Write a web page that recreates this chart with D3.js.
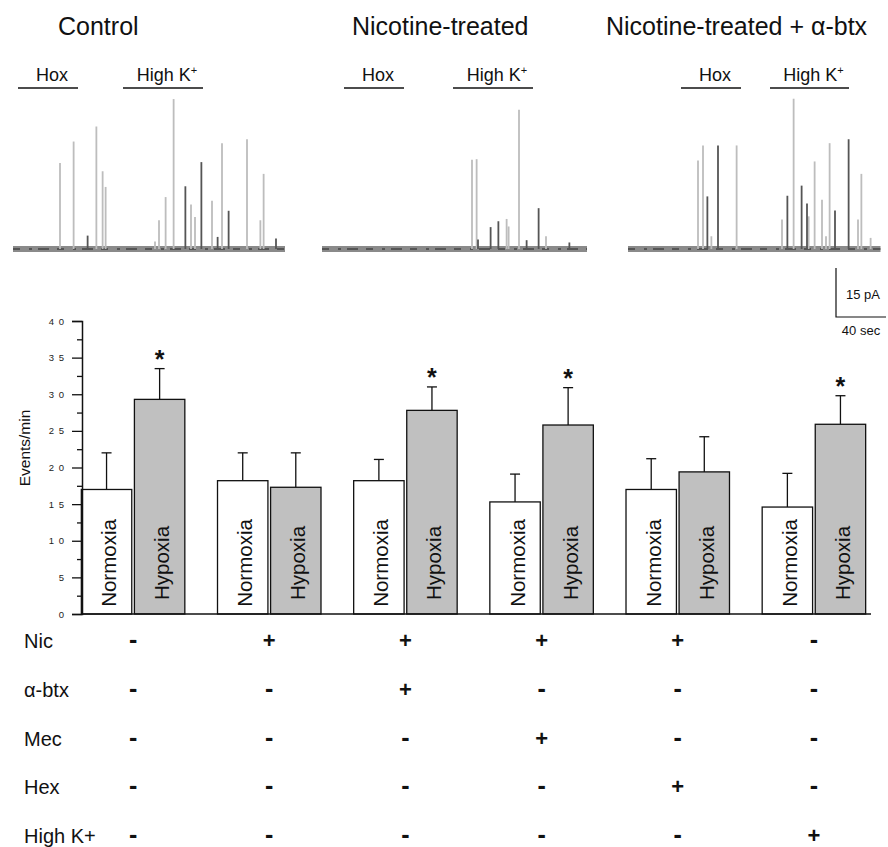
<!DOCTYPE html>
<html><head><meta charset="utf-8">
<script src="https://cdn.jsdelivr.net/npm/d3@7"></script>
<style>body{margin:0;background:#fff} svg{font-family:Arial,"Liberation Sans",sans-serif}</style>
</head><body><svg id="c" width="888" height="847"></svg>
<script>
// ---------- DATA ----------
// bar chart
const groupIds = [0, 1, 2, 3, 4, 5];
const conditions = ["Normoxia", "Hypoxia"];
const normoxiaMean = [17.0, 18.2, 18.2, 15.3, 17.0, 14.6];
const normoxiaSEM  = [5.0, 3.8, 2.9, 3.8, 4.2, 4.6];
const hypoxiaMean  = [29.3, 17.3, 27.8, 25.8, 19.4, 25.9];
const hypoxiaSEM   = [4.2, 4.7, 3.2, 5.1, 4.8, 3.9];
const significant  = [true, false, true, true, false, true];
const yTicksMajor = [0, 5, 10, 15, 20, 25, 30, 35, 40];
const yTicksMinor = [2.5, 7.5, 12.5, 17.5, 22.5, 27.5, 32.5, 37.5];
const yLabel = "Events/min";

// treatment table
const treatments = ["Nic", "\u03b1-btx", "Mec", "Hex", "High K+"];
const nicRow   = ["-", "+", "+", "+", "+", "-"];
const abtxRow  = ["-", "-", "+", "-", "-", "-"];
const mecRow   = ["-", "-", "-", "+", "-", "-"];
const hexRow   = ["-", "-", "-", "-", "+", "-"];
const highKRow = ["-", "-", "-", "-", "-", "+"];
const tableRows = [nicRow, abtxRow, mecRow, hexRow, highKRow];

// current traces: [time (s), amplitude (pA), sweep]
const tracePanels = ["Control", "Nicotine-treated", "Nicotine-treated + \u03b1-btx"];
const traceDurations = [217.6, 212, 202];
const hoxPeriods   = [[4, 52], [17.6, 65.6], [42.4, 90.4]];
const highKPeriods = [[88, 152], [104.8, 168.8], [113.6, 176.8]];
const controlSpikes = [
  [37.6, 26.3, 0], [48.5, 32.9, 0], [59.7, 4.1, 1], [66.7, 37.5, 0], [71.7, 23.8, 0],
  [74.1, 19.0, 0], [113.6, 2.3, 0], [116.8, 8.8, 0], [122.1, 15.9, 0], [128.5, 45.9, 0],
  [137.9, 19.2, 1], [142.4, 13.6, 0], [145.6, 9.8, 0], [150.7, 26.6, 1], [159.2, 14.8, 0],
  [163.7, 3.7, 1], [167.2, 32.4, 0], [172.5, 11.7, 1], [187.2, 33.6, 0], [197.9, 8.8, 0],
  [200.5, 23.0, 0], [210.4, 3.2, 1]
];
const nicotineSpikes = [
  [120.0, 27.3, 0], [123.7, 27.5, 0], [124.8, 2.9, 1], [134.9, 6.7, 1], [141.1, 8.5, 1],
  [147.7, 9.2, 0], [149.3, 6.9, 0], [157.6, 42.6, 0], [163.7, 2.7, 1], [173.3, 12.5, 1],
  [179.2, 3.9, 0], [197.9, 2.0, 1]
];
const btxSpikes = [
  [56.0, 27.1, 0], [60.0, 31.7, 0], [63.5, 16.1, 1], [66.7, 3.9, 0], [72.0, 31.7, 1],
  [86.9, 31.7, 0], [123.2, 9.0, 0], [127.5, 16.3, 1], [132.5, 46.0, 0], [138.9, 19.4, 1],
  [143.2, 13.9, 1], [144.5, 10.0, 0], [149.3, 26.8, 0], [155.2, 15.1, 0], [158.4, 3.9, 0],
  [161.3, 32.4, 0], [165.6, 11.8, 1], [176.5, 33.6, 1], [184.0, 9.0, 0], [186.7, 23.0, 0],
  [194.1, 3.4, 0]
];
const traceSpikes = [controlSpikes, nicotineSpikes, btxSpikes];
const scaleBarPA = 15, scaleBarSec = 40;

// ---------- DRAW ----------
const svg = d3.select("#c");
const FONT = 'Arial,"Liberation Sans",sans-serif';

// traces
const traceX0 = [13, 322, 628];
const titleX = [58, 352, 606];
const PX_PER_SEC = 1.25;
const baseY = 249;
const amp = d3.scaleLinear().domain([0, 15]).range([0, 49]);

tracePanels.forEach((name, i) => {
  const tx = d3.scaleLinear().domain([0, traceDurations[i]])
    .range([traceX0[i], traceX0[i] + traceDurations[i] * PX_PER_SEC]);
  const g = svg.append("g");
  g.append("text").attr("x", titleX[i]).attr("y", 35).attr("font-size", 25)
    .attr("fill", "#111").text(name);
  // stimulus bars
  [[hoxPeriods[i], "Hox"], [highKPeriods[i], "High K"]].forEach(([p, lab]) => {
    g.append("line").attr("x1", tx(p[0])).attr("x2", tx(p[1]))
      .attr("y1", 88).attr("y2", 88).attr("stroke", "#111").attr("stroke-width", 1.5);
    const t = g.append("text").attr("x", (tx(p[0]) + tx(p[1])) / 2 + 4).attr("y", 81)
      .attr("text-anchor", "middle").attr("font-size", 18).attr("fill", "#111").text(lab);
    if (lab === "High K") t.append("tspan").attr("font-size", 11).attr("dy", -7).text("+");
  });
  // baseline noise band
  g.append("rect").attr("x", tx(0)).attr("width", tx(traceDurations[i]) - tx(0))
    .attr("y", baseY - 3).attr("height", 6).attr("fill", "#8a8a8a");
  g.append("line").attr("x1", tx(0)).attr("x2", tx(traceDurations[i]))
    .attr("y1", baseY).attr("y2", baseY).attr("stroke", "#333").attr("stroke-width", 2)
    .attr("stroke-dasharray", "7,9,3,6,11,8").attr("opacity", 0.6);
  // spikes
  const sp = traceSpikes[i].slice().sort((a, b) => a[2] - b[2]);
  g.selectAll("line.spike").data(sp).join("line").attr("class", "spike")
    .attr("x1", d => tx(d[0])).attr("x2", d => tx(d[0]))
    .attr("y1", baseY).attr("y2", d => baseY - amp(d[1]))
    .attr("stroke", d => d[2] ? "#555" : "#bdbdbd").attr("stroke-width", 1.8);
});

// scale bar
const sbX = d3.scaleLinear().domain([0, scaleBarSec]).range([836, 836 + scaleBarSec * PX_PER_SEC]);
const sbBottom = 317;
svg.append("path")
  .attr("d", `M${sbX(0)},${sbBottom - amp(scaleBarPA)}V${sbBottom}H${sbX(scaleBarSec)}`)
  .attr("fill", "none").attr("stroke", "#111").attr("stroke-width", 1.2);
svg.append("text").attr("x", 846).attr("y", 299).attr("font-size", 13).attr("fill", "#111").text(scaleBarPA + " pA");
svg.append("text").attr("x", 861).attr("y", 335).attr("font-size", 13).attr("text-anchor", "middle").attr("fill", "#111").text(scaleBarSec + " sec");

// bar chart
const axisX = 82;
const y = d3.scaleLinear().domain([0, 40]).range([614, 321]);
const x0 = d3.scaleBand().domain(groupIds).range([65, 882]).paddingInner(0.24).paddingOuter(0.12);
const x1 = d3.scaleBand().domain(conditions).range([0, x0.bandwidth()]).paddingInner(0.05);

const barData = [];
groupIds.forEach(g => {
  barData.push({g, c: "Normoxia", m: normoxiaMean[g], e: normoxiaSEM[g], sig: false});
  barData.push({g, c: "Hypoxia", m: hypoxiaMean[g], e: hypoxiaSEM[g], sig: significant[g]});
});

const bars = svg.append("g");
barData.forEach(d => {
  const bx = x0(d.g) + x1(d.c), bw = x1.bandwidth(), cx = bx + bw / 2;
  // error bar
  bars.append("line").attr("x1", cx).attr("x2", cx).attr("y1", y(d.m)).attr("y2", y(d.m + d.e))
    .attr("stroke", "#111").attr("stroke-width", 1.3);
  bars.append("line").attr("x1", cx - 5).attr("x2", cx + 5).attr("y1", y(d.m + d.e)).attr("y2", y(d.m + d.e))
    .attr("stroke", "#111").attr("stroke-width", 1.3);
  bars.append("rect").attr("x", bx).attr("y", y(d.m)).attr("width", bw).attr("height", y(0) - y(d.m))
    .attr("fill", d.c === "Hypoxia" ? "#c0c0c0" : "#fff").attr("stroke", "#111").attr("stroke-width", 1.3);
  bars.append("text").attr("transform", `translate(${cx + 9.5},563) rotate(-90)`)
    .attr("text-anchor", "middle").attr("font-size", 20.5).attr("fill", "#111").text(d.c);
  if (d.sig) {
    bars.append("text").attr("x", cx).attr("y", y(d.m + d.e) - 0.5).attr("text-anchor", "middle")
      .attr("font-size", 25).attr("font-weight", "bold").attr("fill", "#111").text("*");
  }
});

// baseline
svg.append("line").attr("x1", axisX).attr("x2", 871).attr("y1", y(0)).attr("y2", y(0))
  .attr("stroke", "#111").attr("stroke-width", 1.5);

// y axis
const yAxis = d3.axisLeft(y).tickValues(yTicksMajor).tickSize(10).tickPadding(7)
  .tickFormat(d => String(d).split("").join(" "));
const ya = svg.append("g").attr("transform", `translate(${axisX},0)`).call(yAxis);
ya.select(".domain").attr("stroke", "#111").attr("stroke-width", 1.5);
ya.selectAll(".tick line").attr("stroke", "#111").attr("stroke-width", 1.3);
ya.selectAll(".tick text").attr("font-size", 9.5).attr("letter-spacing", 1).attr("fill", "#222").attr("font-family", FONT);
const yMinor = d3.axisLeft(y).tickValues(yTicksMinor).tickSize(5).tickFormat("");
const ym = svg.append("g").attr("transform", `translate(${axisX},0)`).call(yMinor);
ym.select(".domain").remove();
ym.selectAll(".tick line").attr("stroke", "#111").attr("stroke-width", 1.3);
svg.append("text").attr("transform", "translate(30,448) rotate(-90)").attr("text-anchor", "middle")
  .attr("font-size", 15.5).attr("fill", "#111").text(yLabel);

// treatment table
const rowY = d3.scalePoint().domain(treatments).range([641, 836]);
treatments.forEach((t, r) => {
  svg.append("text").attr("x", 24).attr("y", rowY(t) + 7).attr("font-size", 20).attr("fill", "#111").text(t);
  svg.selectAll(null).data(tableRows[r]).join("text")
    .attr("x", (d, i) => x0(i) + x0.bandwidth() / 2).attr("y", rowY(t) + 7)
    .attr("text-anchor", "middle").attr("font-size", d => d === "-" ? 25 : 22).attr("font-weight", "bold")
    .attr("fill", "#111").text(d => d);
});
</script></body></html>
